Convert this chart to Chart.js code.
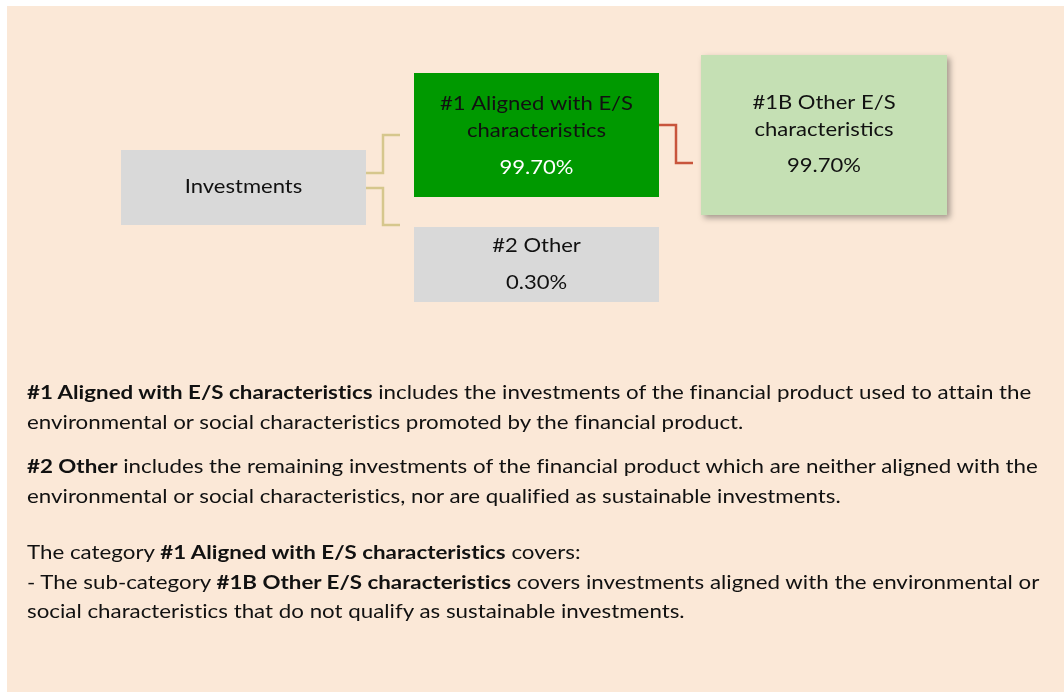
<!DOCTYPE html>
<html>
<head>
<meta charset="utf-8">
<script src="https://cdn.jsdelivr.net/npm/chart.js@4.4.0/dist/chart.umd.min.js"></script>
<style>
body { margin:0; background:#fff; width:1064px; height:697px; overflow:hidden; font-family: Lato, "Open Sans", sans-serif; }
#panel { position:absolute; left:7px; top:6px; width:1057px; height:686px; background:#FBE8D7; }
#chart { position:absolute; left:0; top:0; }
.txt { position:absolute; left:27px; font-size:19px; line-height:29.5px; color:#111; white-space:nowrap;
       font-variant-ligatures:none; transform:scaleX(1.175); transform-origin:0 0; }
.txt b { font-weight:700; }
</style>
</head>
<body>
<div id="panel"></div>
<canvas id="chart" width="1064" height="697"></canvas>
<div class="txt" style="top:377px"><b>#1 Aligned with E/S characteristics</b> includes the investments of the financial product used to attain the<br>environmental or social characteristics promoted by the financial product.</div>
<div class="txt" style="top:451px"><b>#2 Other</b> includes the remaining investments of the financial product which are neither aligned with the<br>environmental or social characteristics, nor are qualified as sustainable investments.</div>
<div class="txt" style="top:537px">The category <b>#1 Aligned with E/S characteristics</b> covers:<br>- The sub-category <b>#1B Other E/S characteristics</b> covers investments aligned with the environmental or<br>social characteristics that do not qualify as sustainable investments.</div>
<script>
// values shown in the boxes
var box_names = ['Investments', '#1 Aligned with E/S|characteristics', '#2 Other', '#1B Other E/S|characteristics'];
var box_shares = [null, 99.70, 0.30, 99.70];

// layout of the tree (canvas units)
var box_rects = [
	{x0:121, x1:366, y0:150, y1:225, fill:'#D9D9D9', text:'#111', pct:'#111', shadow:false},
	{x0:414, x1:659, y0:73, y1:197, fill:'#009900', text:'#111', pct:'#fff', shadow:false},
	{x0:414, x1:659, y0:227, y1:302, fill:'#D9D9D9', text:'#111', pct:'#111', shadow:false},
	{x0:701, x1:947, y0:55, y1:215, fill:'#C5E0B4', text:'#111', pct:'#111', shadow:true}
];
var text_rows = [
	{name:[187], pct:null},
	{name:[104, 131], pct:168},
	{name:[246], pct:283},
	{name:[103, 130], pct:166}
];
// connectors: parent box, y at parent, y at child, elbow x, end x, colour
var links = [
	{from:0, y0:173, y1:135, mx:383, x1:400, color:'#D6C78D'},
	{from:0, y0:188, y1:225, mx:383, x1:400, color:'#D6C78D'},
	{from:1, y0:125, y1:163, mx:676, x1:693, color:'#C8553C'}
];

var datasets = links.map(function(l) {
	var x0 = box_rects[l.from].x1;
	return {
		type: 'line',
		data: [{x:x0, y:l.y0}, {x:l.mx, y:l.y0}, {x:l.mx, y:l.y1}, {x:l.x1, y:l.y1}],
		borderColor: l.color,
		borderWidth: 2.5,
		pointRadius: 0,
		fill: false,
		tension: 0
	};
});

var boxPlugin = {
	id: 'boxes',
	beforeDatasetsDraw: function(chart) {
		var ctx = chart.ctx, sx = chart.scales.x, sy = chart.scales.y;
		box_rects.forEach(function(b, i) {
			var px0 = sx.getPixelForValue(b.x0), px1 = sx.getPixelForValue(b.x1);
			var py0 = sy.getPixelForValue(b.y0), py1 = sy.getPixelForValue(b.y1);
			ctx.save();
			if (b.shadow) {
				ctx.shadowColor = 'rgba(0,0,0,0.35)';
				ctx.shadowBlur = 6;
				ctx.shadowOffsetX = 3;
				ctx.shadowOffsetY = 3;
			}
			ctx.fillStyle = b.fill;
			ctx.fillRect(px0, py0, px1 - px0, py1 - py0);
			ctx.restore();
			var cx = (px0 + px1) / 2;
			var drawText = function(t, y, col) {
				ctx.save();
				ctx.font = '19px Lato, "Open Sans", sans-serif';
				ctx.textAlign = 'center';
				ctx.textBaseline = 'middle';
				ctx.fillStyle = col;
				ctx.translate(cx, sy.getPixelForValue(y));
				ctx.scale(1.16, 1);
				ctx.fillText(t, 0, 0);
				ctx.restore();
			};
			box_names[i].split('|').forEach(function(t, k) {
				drawText(t, text_rows[i].name[k], b.text);
			});
			if (box_shares[i] !== null) {
				drawText(box_shares[i].toFixed(2) + '%', text_rows[i].pct, b.pct);
			}
		});
	}
};

new Chart(document.getElementById('chart'), {
	type: 'scatter',
	data: { datasets: datasets },
	options: {
		responsive: false,
		animation: false,
		layout: { padding: 0 },
		plugins: { legend: { display: false }, tooltip: { enabled: false } },
		scales: {
			x: { type: 'linear', min: 0, max: 1064, display: false },
			y: { type: 'linear', min: 0, max: 697, reverse: true, display: false }
		}
	},
	plugins: [boxPlugin]
});
</script>
</body>
</html>
